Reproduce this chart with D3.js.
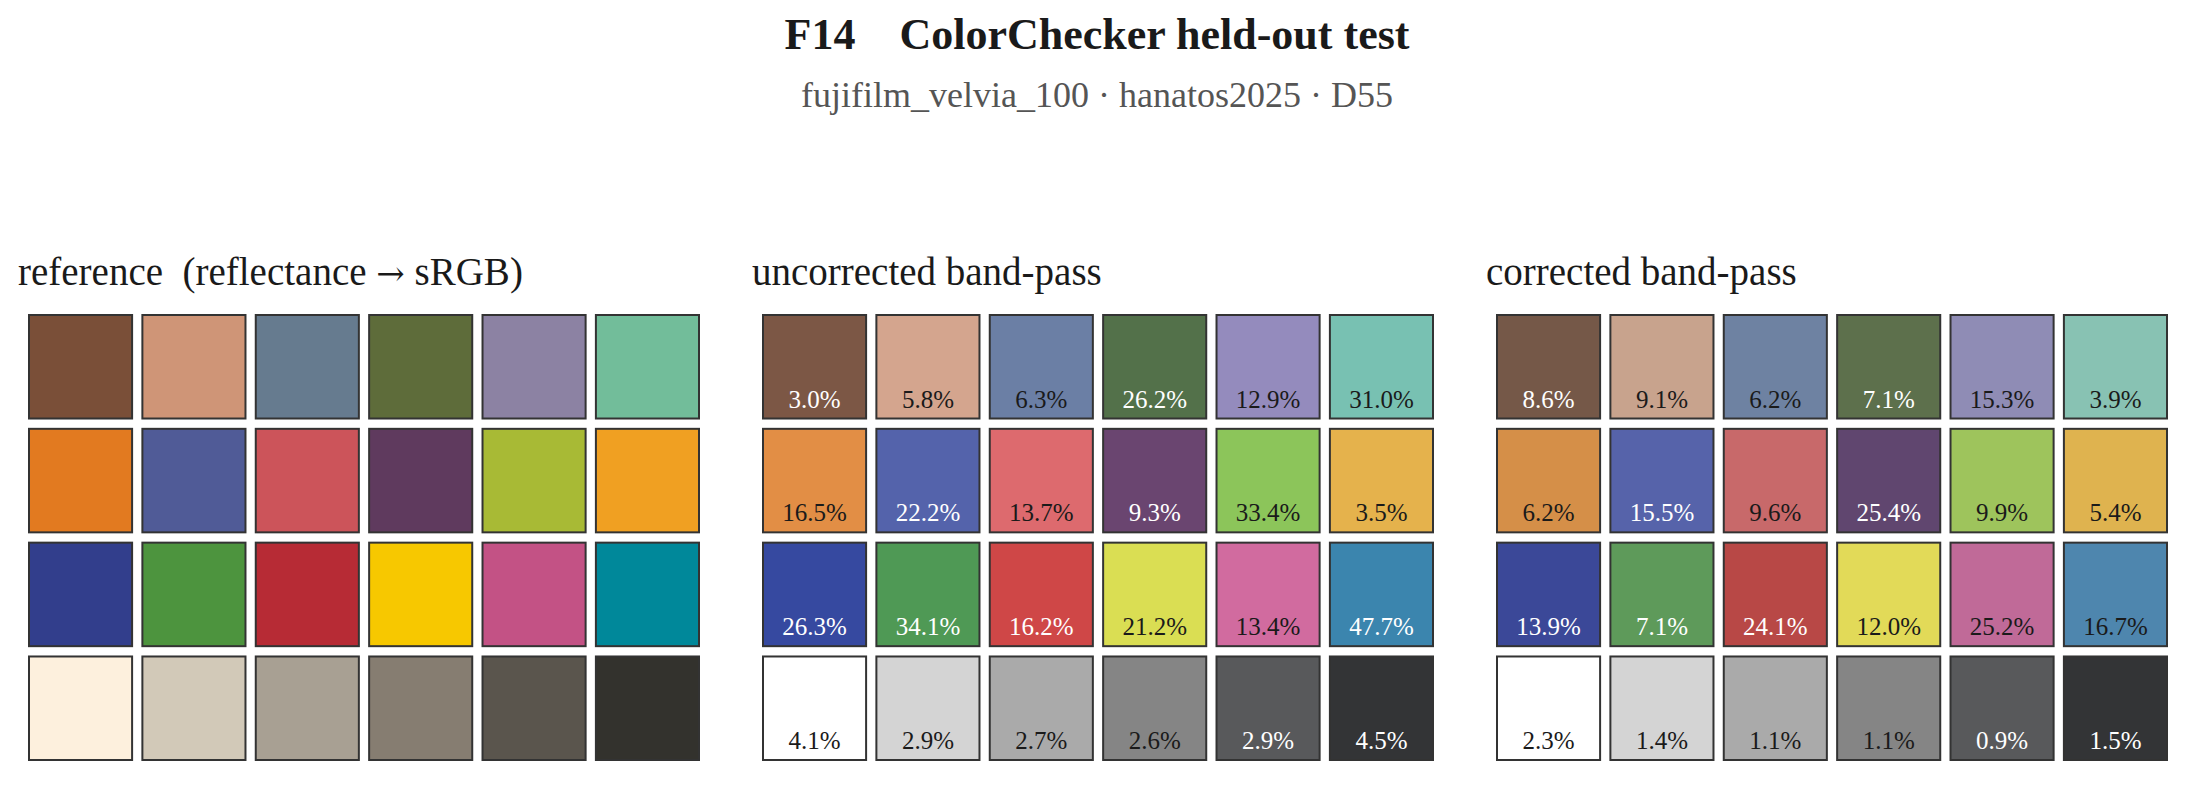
<!DOCTYPE html>
<html lang="en">
<head>
    <meta charset="utf-8">
    <title>F14 ColorChecker held-out test</title>
    <style type="text/css">
        body { margin: 0; background: white; }
        svg { display: block; }
        text { font-family: "Liberation Serif", "Times New Roman", serif; }
    </style>
    <script type="text/javascript" src="https://cdn.jsdelivr.net/npm/d3@7"></script>
</head>
<body>
    <script type="text/javascript">
        let w = 2194;
        let h = 788;

        let titleText = "F14    ColorChecker held-out test";
        let subtitleText = "fujifilm_velvia_100 \u00b7 hanatos2025 \u00b7 D55";
        let panelTitles = ["reference  (reflectance \u2192 sRGB)", "uncorrected band-pass", "corrected band-pass"];

        // 24 patches, row by row (6 columns x 4 rows)
        let referenceColors = [
            "#7a4f38", "#cf9577", "#667b8f", "#5e6c3a", "#8c82a3", "#72bd9a",
            "#e27a20", "#505b97", "#cc545a", "#5f3a5e", "#a8ba35", "#f0a022",
            "#323e8c", "#4d943e", "#b72b35", "#f7c800", "#c35285", "#00889a",
            "#fdf0dd", "#d2c9b8", "#a8a093", "#867d71", "#5a554d", "#33322d"
        ];
        let uncorrectedColors = [
            "#7c5745", "#d4a58e", "#6b7fa5", "#53714a", "#948bbd", "#78c1b2",
            "#e28e45", "#5463ab", "#dd6a6e", "#6a4570", "#8cc55a", "#e5b24c",
            "#3649a0", "#4f9955", "#cf4747", "#dade53", "#d16b9f", "#3b85ae",
            "#ffffff", "#d4d4d4", "#aaaaaa", "#858585", "#58595b", "#333436"
        ];
        let uncorrectedErrors = [
            3.0, 5.8, 6.3, 26.2, 12.9, 31.0,
            16.5, 22.2, 13.7, 9.3, 33.4, 3.5,
            26.3, 34.1, 16.2, 21.2, 13.4, 47.7,
            4.1, 2.9, 2.7, 2.6, 2.9, 4.5
        ];
        let correctedColors = [
            "#755848", "#c8a38d", "#6e82a2", "#5d704c", "#8f8cb5", "#88c2b3",
            "#d58f48", "#5663aa", "#c8696a", "#60466f", "#9ec45c", "#dfb34f",
            "#3b4898", "#5e9a5a", "#b84846", "#e2da58", "#c06a98", "#4e86ae",
            "#ffffff", "#d4d4d4", "#aaaaaa", "#858585", "#58595b", "#333436"
        ];
        let correctedErrors = [
            8.6, 9.1, 6.2, 7.1, 15.3, 3.9,
            6.2, 15.5, 9.6, 25.4, 9.9, 5.4,
            13.9, 7.1, 24.1, 12.0, 25.2, 16.7,
            2.3, 1.4, 1.1, 1.1, 0.9, 1.5
        ];

        let panels = [
            { title: panelTitles[0], colors: referenceColors, errors: null },
            { title: panelTitles[1], colors: uncorrectedColors, errors: uncorrectedErrors },
            { title: panelTitles[2], colors: correctedColors, errors: correctedErrors }
        ];

        let svg = d3.select("body").append("svg")
                .attr("width", w)
                .attr("height", h)
                .style("background-color", "white");

        // Title and subtitle
        svg.append("text")
            .attr("x", w / 2)
            .attr("y", 49)
            .attr("text-anchor", "middle")
            .style("white-space", "pre")
            .attr("font-size", 44)
            .attr("font-weight", "bold")
            .attr("fill", "#1a1a1a")
            .text(titleText);

        svg.append("text")
            .attr("x", w / 2)
            .attr("y", 107)
            .attr("text-anchor", "middle")
            .attr("font-size", 36)
            .attr("fill", "#555555")
            .text(subtitleText);

        // Scales: panel position, column and row inside a panel
        let panelX = d3.scaleBand()
            .domain(d3.range(3))
            .range([28, 28 + 3 * 734])
            .paddingInner(0);

        let col = d3.scaleBand()
            .domain(d3.range(6))
            .range([0, 672])
            .paddingInner(0.073);

        let row = d3.scaleBand()
            .domain(d3.range(4))
            .range([314, 761])
            .paddingInner(0.073);

        let labelColor = function (c) {
            let rgb = d3.rgb(c);
            return (rgb.r + rgb.g + rgb.b) / 3 < 127.5 ? "white" : "#1a1a1a";
        };

        let groups = svg.selectAll("g.panel")
            .data(panels)
            .enter()
            .append("g")
                .attr("class", "panel")
                .attr("transform", function (d, i) {
                    return "translate(" + panelX(i) + ",0)";
                });

        // Panel titles; the arrow gets a font with a full-width arrow glyph
        let ptitles = groups.append("text")
            .attr("x", -10)
            .attr("y", 285)
            .style("white-space", "pre")
            .attr("font-size", 39)
            .attr("fill", "#1a1a1a");

        ptitles.each(function (d) {
            let t = d3.select(this);
            d.title.split(/(\u2192)/).forEach(function (part) {
                let span = t.append("tspan").text(part);
                if (part === "\u2192") {
                    span.style("font-family", "'DejaVu Serif', serif").attr("font-size", 34);
                }
            });
        });

        let cells = groups.selectAll("g.cell")
            .data(function (d) {
                return d.colors.map(function (c, k) {
                    return { color: c, err: d.errors ? d.errors[k] : null, c: k % 6, r: Math.floor(k / 6) };
                });
            })
            .enter()
            .append("g")
                .attr("class", "cell");

        cells.append("rect")
            .attr("x", function (d) { return col(d.c) + 1; })
            .attr("y", function (d) { return row(d.r) + 1; })
            .attr("width", col.bandwidth() - 2)
            .attr("height", row.bandwidth() - 2)
            .attr("fill", function (d) { return d.color; })
            .attr("stroke", "#333333")
            .attr("stroke-width", 2);

        cells.filter(function (d) { return d.err !== null; })
            .append("text")
            .attr("x", function (d) { return col(d.c) + col.bandwidth() / 2; })
            .attr("y", function (d) { return row(d.r) + row.bandwidth() - 12; })
            .attr("text-anchor", "middle")
            .attr("font-size", 25)
            .attr("fill", function (d) { return labelColor(d.color); })
            .text(function (d) { return d.err.toFixed(1) + "%"; });
    </script>
</body>
</html>
